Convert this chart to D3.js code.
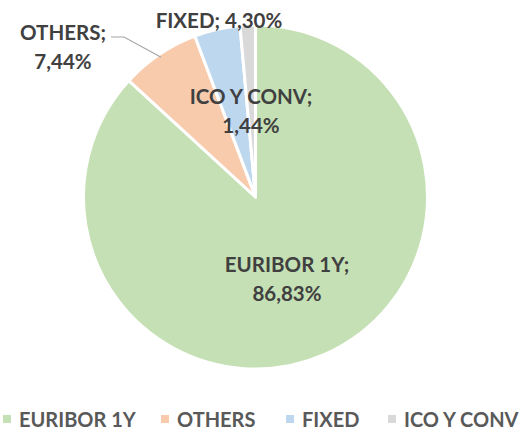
<!DOCTYPE html>
<html><head><meta charset="utf-8">
<script src="https://cdn.jsdelivr.net/npm/d3@7"></script>
<style>body{margin:0;background:#fff}text{font-family:Lato,"Open Sans",sans-serif;font-weight:bold}</style>
</head><body><svg id="c" width="526" height="431"></svg>
<script>
const categories = ["EURIBOR 1Y", "OTHERS", "FIXED", "ICO Y CONV"];
const values = [86.83, 7.44, 4.30, 1.44];
const colors = ["#C5E0B4", "#F8CBAD", "#BDD7EE", "#D9D9D9"];
const valueLabels = ["86,83%", "7,44%", "4,30%", "1,44%"];

const svg = d3.select("#c");
const cx = 255.5, cy = 197, r = 172;
const pie = d3.pie().sort(null).value(d => d)(values);
const arc = d3.arc().innerRadius(0).outerRadius(r);
const g = svg.append("g").attr("transform", `translate(${cx},${cy})`);
g.selectAll("path").data(pie).join("path")
  .attr("d", arc).attr("fill", (d,i) => colors[i])
  .attr("stroke", "#fff").attr("stroke-width", 3).attr("stroke-linejoin","round");

const labelPos = [
  {lines:[categories[0]+";", valueLabels[0]], x:287, y:264},
  {lines:[categories[1]+";", valueLabels[1]], x:63, y:32},
  {lines:[categories[2]+"; "+valueLabels[2]], x:219, y:20},
  {lines:[categories[3]+";", valueLabels[3]], x:251, y:96}
];
const oc = d3.arc().innerRadius(r).outerRadius(r).centroid(pie[1]);
svg.append("polyline")
  .attr("points", `111,37 124,37 ${cx+oc[0]*0.98},${cy+oc[1]*0.98}`)
  .attr("fill","none").attr("stroke","#A6A6A6").attr("stroke-width",1.2);

labelPos.forEach(l => {
  l.lines.forEach((t, k) => {
    svg.append("text").attr("x", l.x).attr("y", l.y + k*29)
      .attr("text-anchor","middle").attr("dominant-baseline","central")
      .attr("fill","#404040").attr("font-size", 20.5).text(t);
  });
});

const legX = [3, 161, 286, 388];
const lg = svg.append("g");
categories.forEach((c, i) => {
  lg.append("rect").attr("x", legX[i]).attr("y", 415).attr("width", 8).attr("height", 8).attr("fill", colors[i]);
  lg.append("text").attr("x", legX[i]+16).attr("y", 419).attr("dominant-baseline","central")
    .attr("fill","#595959").attr("font-size", 20).text(c);
});
</script></body></html>
